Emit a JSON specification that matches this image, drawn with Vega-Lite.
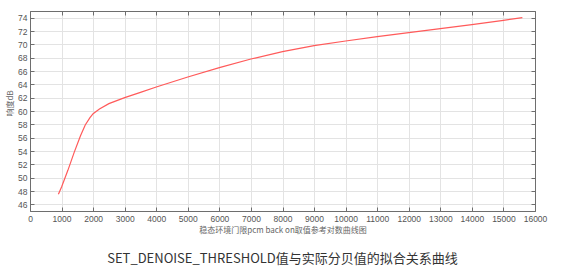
{
  "$schema": "https://vega.github.io/schema/vega-lite/v6.json",
  "autosize": {"type": "none"},
  "width": 505,
  "height": 200,
  "padding": {"left": 30, "top": 11, "right": 38, "bottom": 61},
  "background": "white",
  "title": {
    "text": "SET_DENOISE_THRESHOLD值与实际分贝值的拟合关系曲线",
    "orient": "bottom",
    "anchor": "middle",
    "font": "Noto Sans CJK SC",
    "fontSize": 13,
    "fontWeight": "normal",
    "color": "#333333",
    "offset": 18
  },
  "config": {
    "view": {"stroke": "#6e6e6e", "strokeWidth": 1},
    "axis": {
      "labelFont": "Liberation Sans",
      "labelFontSize": 8.5,
      "labelColor": "#555555",
      "labelOverlap": false,
      "labelFlush": false,
      "domainColor": "#6e6e6e",
      "tickColor": "#6e6e6e",
      "gridColor": "#e3e3e3",
      "titleFont": "Noto Sans CJK SC",
      "titleFontSize": 8,
      "titleFontWeight": "normal",
      "titleColor": "#666666"
    }
  },
  "data": {
    "values": [
      {"x": 900, "y": 47.5},
      {"x": 1000, "y": 48.6},
      {"x": 1200, "y": 51.1},
      {"x": 1400, "y": 53.8},
      {"x": 1600, "y": 56.3},
      {"x": 1750, "y": 57.9},
      {"x": 1900, "y": 59.0},
      {"x": 2000, "y": 59.6},
      {"x": 2200, "y": 60.3},
      {"x": 2500, "y": 61.1},
      {"x": 3000, "y": 62.0},
      {"x": 3500, "y": 62.8},
      {"x": 4000, "y": 63.6},
      {"x": 5000, "y": 65.1},
      {"x": 6000, "y": 66.5},
      {"x": 7000, "y": 67.8},
      {"x": 8000, "y": 68.9},
      {"x": 9000, "y": 69.8},
      {"x": 10000, "y": 70.5},
      {"x": 11000, "y": 71.15},
      {"x": 12000, "y": 71.75},
      {"x": 13000, "y": 72.35},
      {"x": 14000, "y": 72.95},
      {"x": 15000, "y": 73.6},
      {"x": 15600, "y": 74.0}
    ]
  },
  "layer": [
    {
      "mark": {"type": "line", "color": "#ff5a5a", "strokeWidth": 1.2, "clip": true},
      "encoding": {
        "x": {
          "field": "x", "type": "quantitative",
          "scale": {"domain": [0, 16000], "nice": false},
          "axis": {
            "values": [0,1000,2000,3000,4000,5000,6000,7000,8000,9000,10000,11000,12000,13000,14000,15000,16000],
            "format": "d",
            "tickSize": -4,
            "labelPadding": 7,
            "title": "稳态环境门限pcm back on取值参考对数曲线图",
            "titlePadding": 4
          }
        },
        "y": {
          "field": "y", "type": "quantitative",
          "scale": {"domain": [45, 75], "nice": false, "zero": false},
          "axis": {
            "values": [46,48,50,52,54,56,58,60,62,64,66,68,70,72,74],
            "tickSize": -4,
            "labelPadding": 7,
            "title": "响度dB",
            "titlePadding": 3,
            "titleY": 92
          }
        }
      }
    },
    {
      "mark": {"type": "line", "opacity": 0},
      "encoding": {
        "x": {
          "field": "x", "type": "quantitative",
          "scale": {"domain": [0, 16000], "nice": false},
          "axis": {
            "orient": "top",
            "values": [0,1000,2000,3000,4000,5000,6000,7000,8000,9000,10000,11000,12000,13000,14000,15000,16000],
            "labels": false, "grid": false, "tickSize": -4, "title": null
          }
        },
        "y": {
          "field": "y", "type": "quantitative",
          "scale": {"domain": [45, 75], "nice": false, "zero": false},
          "axis": {
            "orient": "right",
            "values": [46,48,50,52,54,56,58,60,62,64,66,68,70,72,74],
            "labels": false, "grid": false, "tickSize": -4, "title": null
          }
        }
      }
    }
  ],
  "resolve": {"axis": {"x": "independent", "y": "independent"}}
}
